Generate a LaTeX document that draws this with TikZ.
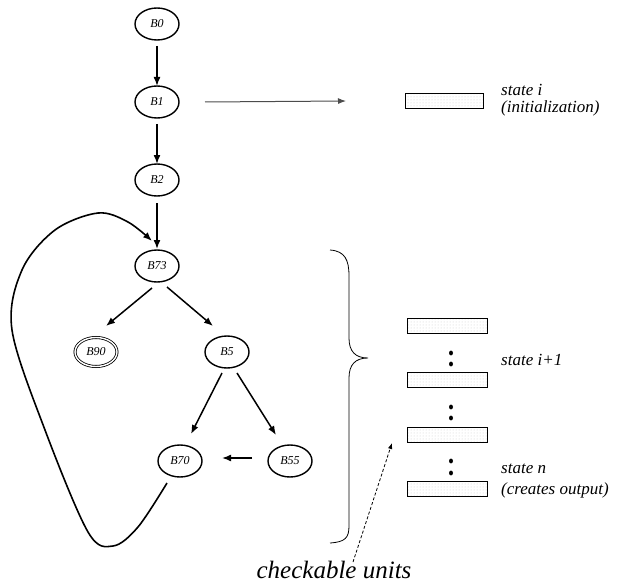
\documentclass[tikz,border=0pt]{standalone}
\usepackage{fontspec}
\setmainfont{Liberation Serif}
\usetikzlibrary{shapes.geometric,arrows.meta,patterns}
\begin{document}
\begin{tikzpicture}[x=1pt,y=-1pt,
  blk/.style={ellipse,draw,line width=1.4pt,minimum width=44pt,minimum height=32pt,inner sep=0pt,font=\itshape\fontsize{12}{14}\selectfont},
  fin/.style={ellipse,draw,double,double distance=1.4pt,line width=0.8pt,minimum width=42pt,minimum height=29pt,inner sep=0pt,font=\itshape\fontsize{12}{14}\selectfont},
  arr/.style={line width=1.5pt,-{Latex[length=9pt,width=7pt]}},
  statebox/.style={draw,line width=0.9pt,pattern=dots,pattern color=gray!40,minimum width=80pt,minimum height=15pt,inner sep=0pt},
  lbl/.style={anchor=base west,inner sep=0pt,font=\itshape\fontsize{17}{20}\selectfont},
  dotpair/.style={fill=black}
]
\useasboundingbox (0,0) rectangle (618,583);
% nodes
\node[blk] (B0) at (157,24) {B0};
\node[blk] (B1) at (157,102) {B1};
\node[blk] (B2) at (157,180) {B2};
\node[blk] (B73) at (157,266) {B73};
\node[fin] (B90) at (96,352) {B90};
\node[blk] (B5) at (227,352) {B5};
\node[blk] (B70) at (180,461) {B70};
\node[blk] (B55) at (290,461) {B55};
% edges
\draw[arr] ([shift={(0,22)}]B0.center) -- ([shift={(0,-16)}]B1.center);
\draw[arr] ([shift={(0,22)}]B1.center) -- ([shift={(0,-16)}]B2.center);
\draw[arr] ([shift={(0,23)}]B2.center) -- ([shift={(0,-17)}]B73.center);
\draw[arr] ([shift={(-5,22)}]B73.center) -- ([shift={(10,-26)}]B90.center);
\draw[arr] ([shift={(10,21)}]B73.center) -- ([shift={(-14,-26)}]B5.center);
\draw[arr] ([shift={(-5,21)}]B5.center) -- ([shift={(11,-27)}]B70.center);
\draw[arr] ([shift={(10,21)}]B5.center) -- ([shift={(-14,-26)}]B55.center);
\draw[arr] ([shift={(-38,-3)}]B55.center) -- ([shift={(42,-3)}]B70.center);
% loop back edge
\coordinate (ls) at ([shift={(-13,22)}]B70.center);
\coordinate (le) at ([shift={(-5,-25)}]B73.center);
\draw[line width=1.6pt,-{Latex[length=9pt,width=7pt]}] plot[smooth,tension=0.55] coordinates {(ls) (138,527) (113,546) (88,532) (45,430) (12,330) (22,270) (55,230) (98,213) (128,222) (le)};
% state boxes
\node[statebox,minimum width=78pt] (S0) at (444,101) {};
\node[statebox] (S1) at (447,326) {};
\node[statebox] (S2) at (447,380) {};
\node[statebox] (S3) at (447,435) {};
\node[statebox] (S4) at (447,489) {};
\coordinate (sb) at ([xshift=-98pt]S0.center);
\draw[line width=1pt,draw=black!70,-{Latex[length=8pt,width=6pt]}] (B1.center) ++(48,0) -- (sb);
% vertical dots
\foreach \y in {353,364,407,418,461,473}
  \fill[dotpair] (451,\y) ellipse (2pt and 2.4pt);
% labels
\node[lbl] (t0) at (501,96) {state i};
\node[lbl] (t0b) at (501,113) {(initialization)};
\node[lbl] (t1) at (501,365) {state i+1};
\node[lbl] (t2) at (501,473) {state n};
\node[lbl] (t2b) at (501,494) {(creates output)};
% brace
\draw[line width=0.8pt] (330,250) .. controls (345,251) and (349,260) .. (349,276) -- (349,338)
  .. controls (349,351) and (355,358) .. (368,358)
  .. controls (355,358) and (349,365) .. (349,378) -- (349,526)
  .. controls (349,538) and (345,542) .. (330,543);
% checkable units
\node[anchor=base,inner sep=0pt,font=\itshape\fontsize{25}{28}\selectfont] (cu) at (334,578) {checkable units};
\coordinate (ca) at (353,562);
\coordinate (cb) at (392,443);
\draw[line width=0.8pt,dash pattern=on 3pt off 2pt,-{Latex[length=6pt,width=4.5pt]}] (ca) -- (cb);
\end{tikzpicture}
\end{document}
